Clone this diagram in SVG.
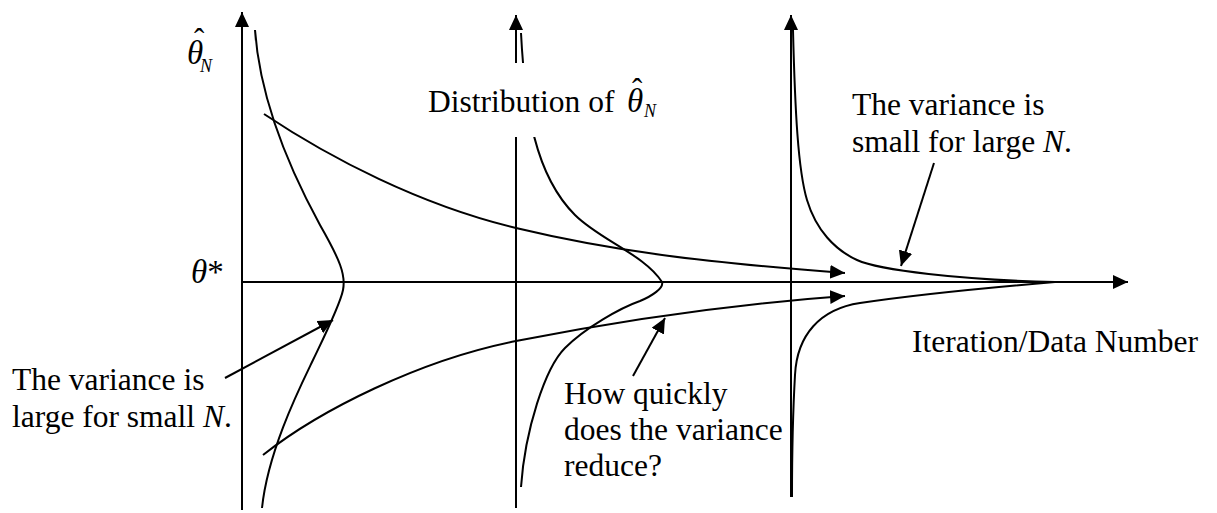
<svg xmlns="http://www.w3.org/2000/svg" width="1217" height="513" viewBox="0 0 1217 513">
<style>
  .ln{fill:none;stroke:#000;stroke-width:2}
  .tx{font-family:"Liberation Serif","Times New Roman",serif;font-size:31.5px;fill:#000}
  .it{font-style:italic}
  .th{font-family:"Liberation Serif","Times New Roman",serif;font-size:33px;font-style:italic;fill:#000}
  .hat{font-size:31px;font-style:normal}
  .sub{font-size:18px;font-style:italic}
</style>
<defs>
  <marker id="ah" markerWidth="16" markerHeight="15" refX="15" refY="7" orient="auto" markerUnits="userSpaceOnUse">
    <path d="M0,0 L15,7 L0,14 z" fill="#000"/>
  </marker>
  <clipPath id="gap">
    <rect x="0" y="0" width="1217" height="63"/>
    <rect x="0" y="137" width="1217" height="376"/>
  </clipPath>
</defs>

<g id="axes">
  <line id="axis-left" class="ln" x1="242" y1="510" x2="242" y2="12" marker-end="url(#ah)"/>
  <line id="axis-x" class="ln" x1="242" y1="282" x2="1128" y2="282" marker-end="url(#ah)"/>
  <line id="axis-mid" class="ln" x1="516" y1="508" x2="516" y2="15" marker-end="url(#ah)" clip-path="url(#gap)"/>
  <line id="axis-right" class="ln" x1="791" y1="497" x2="791" y2="15" marker-end="url(#ah)"/>
</g>

<g id="curves">
  <path id="dist-left" class="ln" d="M255,30 C260,100 290,170 320,225 C340,260 346,275 343,290 C340,305 325,335 313,360 C301,385 268,450 262,508"/>
  <path id="dist-mid" class="ln" clip-path="url(#gap)" d="M521,33 C525,110 535,175 575,215 C600,240 645,255 662,282 C664,288 652,296 640,301 C620,308 585,328 565,348 C545,368 525,430 521,487"/>
  <path id="dist-right" class="ln" d="M793,30 C795,110 798,170 807,200 C816,230 835,250 857,260 C879,270 960,280 1055,282 C960,290 900,297 860,303 C820,309 797,335 795,375 C793,410 792,450 792,497"/>
  <path id="upper-bound" class="ln" d="M264,114 C330,158 420,205 516,228 C612,251 700,262 845,273" marker-end="url(#ah)"/>
  <path id="lower-bound" class="ln" d="M263,455 C320,410 420,360 516,341 C612,322 720,305 845,296" marker-end="url(#ah)"/>
</g>

<g id="connectors">
  <line class="ln" x1="934" y1="163" x2="901" y2="266" marker-end="url(#ah)"/>
  <line class="ln" x1="225" y1="378" x2="333" y2="320" marker-end="url(#ah)"/>
  <line class="ln" x1="633" y1="376" x2="665" y2="318" marker-end="url(#ah)"/>
</g>

<g id="label-theta-hat">
  <text class="th" x="187" y="64">θ<tspan class="hat" x="194" y="50">ˆ</tspan><tspan class="sub" x="200" y="72">N</tspan></text>
</g>

<g id="label-theta-star">
  <text class="th" x="191" y="283">θ<tspan font-style="normal">*</tspan></text>
</g>

<g id="label-distribution">
  <text class="tx" x="428" y="112">Distribution of<tspan class="th" x="627" y="112">θ</tspan><tspan class="hat" x="632" y="100">ˆ</tspan><tspan class="sub" x="644" y="117">N</tspan></text>
</g>

<g id="label-small">
  <text class="tx" x="852" y="115">The variance is</text>
  <text class="tx" x="852" y="152">small for large <tspan class="it">N</tspan>.</text>
</g>

<g id="label-large">
  <text class="tx" x="12" y="390">The variance is</text>
  <text class="tx" x="12" y="427">large for small <tspan class="it">N</tspan>.</text>
</g>

<g id="label-quickly">
  <text class="tx" x="564" y="404">How quickly</text>
  <text class="tx" x="564" y="440">does the variance</text>
  <text class="tx" x="564" y="476">reduce?</text>
</g>

<g id="label-iteration">
  <text class="tx" x="912" y="352">Iteration/Data Number</text>
</g>
</svg>
